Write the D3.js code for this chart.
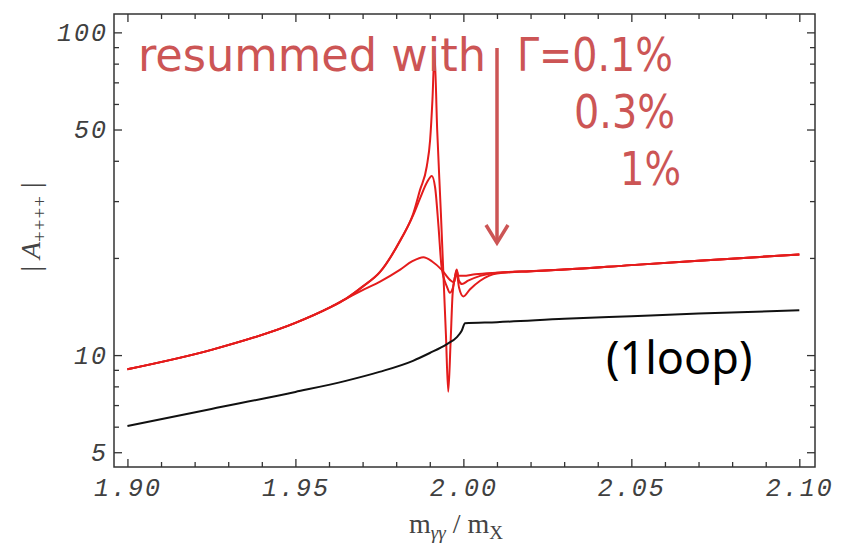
<!DOCTYPE html>
<html>
<head>
<meta charset="utf-8">
<script src="https://cdn.jsdelivr.net/npm/d3@7"></script>
<style>
  body { margin: 0; background: #fff; }
  svg { display: block; }
</style>
</head>
<body>
<div id="chart"></div>
<script>
// values: [m_yy/m_X, |A++++|]
var oneLoop = [[1.90,6.03],[1.925,6.81],[1.95,7.69],[1.965,8.32],[1.975,8.87],[1.985,9.6],
  [1.99,10.15],[1.995,10.8],[1.998,11.35],[1.9995,11.9],[2.0005,12.56],[2.01,12.65],[2.03,12.95],
  [2.05,13.2],[2.07,13.45],[2.10,13.76]];
var redLeft = [[1.90,9.04],[1.925,10.38],[1.95,12.58],[1.96,14.0],[1.965,14.94]];
var redRight = [[2.02,18.2],[2.03,18.4],[2.05,19.0],[2.07,19.6],[2.09,20.2],[2.10,20.5]];
var width01 = [[1.97,16.3],[1.9752,18.1],[1.9812,22.7],[1.9851,27.5],[1.9871,32.5],[1.9891,38.4],
  [1.9901,46.4],[1.9908,62],[1.9914,86],[1.9922,50],[1.9933,27.6],[1.9941,17.3],[1.9948,11.6],
  [1.9955,7.7],[1.9962,11],[1.9968,15.5],[1.9975,17.5],[1.9980,18.4],[1.9985,17.6],[1.9999,17.6],
  [2.0035,17.8],[2.01,18.0]];
var width03 = [[1.97,16.3],[1.9752,18.1],[1.9812,22.6],[1.9851,27.2],[1.9871,30.6],[1.9891,34.2],
  [1.9906,35.9],[1.9916,33],[1.9926,25],[1.9935,18.8],[1.9951,16.3],[1.9960,15.6],[1.9969,16.2],
  [1.9980,18.3],[1.9987,17],[1.9996,16.6],[2.0014,17.0],[2.005,17.6],[2.01,18.0]];
var width1 = [[1.97,15.9],[1.9752,16.9],[1.9812,18.4],[1.9847,19.5],[1.9881,20.1],[1.9907,19.5],
  [1.9935,18.4],[1.9960,17.1],[1.9972,16.8],[1.9980,18.0],[1.9987,16.2],[2.0000,15.2],
  [2.002,16.0],[2.005,17.0],[2.01,17.9]];

var xTickValues = [1.90, 1.95, 2.00, 2.05, 2.10];
var yTickValues = [5, 10, 50, 100];
var widthLabels = ["\u0393=0.1%", "0.3%", "1%"];

var W = 842, H = 554;
var margin = {left: 114, right: 815, top: 14, bottom: 467};

var svg = d3.select("#chart").append("svg")
  .attr("width", W).attr("height", H);
svg.append("rect").attr("width", W).attr("height", H).attr("fill", "#fff");

var x = d3.scaleLinear().domain([1.896, 2.10467]).range([margin.left, margin.right]);
var y = d3.scaleLog().domain([4.5, 114]).range([margin.bottom, margin.top]);

var line = d3.line()
  .x(function(d) { return x(d[0]); })
  .y(function(d) { return y(d[1]); })
  .curve(d3.curveMonotoneX);

// curves
var redSeries = [width1, width03, width01];
redSeries.forEach(function(s) {
  svg.append("path")
    .datum(redLeft.concat(s, redRight))
    .attr("d", line)
    .attr("fill", "none")
    .attr("stroke", "#e41c1c")
    .attr("stroke-width", 2);
});
svg.append("path")
  .datum(oneLoop)
  .attr("d", line)
  .attr("fill", "none")
  .attr("stroke", "#111")
  .attr("stroke-width", 2);

// ticks (inward, on all four sides)
var xMinor = x.ticks(20).filter(function(v) { return xTickValues.indexOf(+v.toFixed(2)) < 0; });
var yMinor = y.ticks().filter(function(v) { return yTickValues.indexOf(v) < 0; });

function tickStyle(g) {
  g.select(".domain").remove();
  g.selectAll("line").attr("stroke", "#333").attr("stroke-width", 1.3);
}

var axes = svg.append("g");
axes.append("g").attr("transform", "translate(0," + margin.bottom + ")")
  .call(d3.axisBottom(x).tickValues(xTickValues).tickSize(-8).tickPadding(11)
    .tickFormat(d3.format(".2f")))
  .call(tickStyle);
axes.append("g").attr("transform", "translate(0," + margin.bottom + ")")
  .call(d3.axisBottom(x).tickValues(xMinor).tickSize(-5).tickFormat(""))
  .call(tickStyle);
axes.append("g").attr("transform", "translate(0," + margin.top + ")")
  .call(d3.axisTop(x).tickValues(xTickValues).tickSize(-8).tickFormat(""))
  .call(tickStyle);
axes.append("g").attr("transform", "translate(0," + margin.top + ")")
  .call(d3.axisTop(x).tickValues(xMinor).tickSize(-5).tickFormat(""))
  .call(tickStyle);

axes.append("g").attr("transform", "translate(" + margin.left + ",0)")
  .call(d3.axisLeft(y).tickValues(yTickValues).tickSize(-8).tickPadding(6)
    .tickFormat(d3.format("d")))
  .call(tickStyle);
axes.append("g").attr("transform", "translate(" + margin.left + ",0)")
  .call(d3.axisLeft(y).tickValues(yMinor).tickSize(-5).tickFormat(""))
  .call(tickStyle);
axes.append("g").attr("transform", "translate(" + margin.right + ",0)")
  .call(d3.axisRight(y).tickValues(yTickValues).tickSize(-8).tickFormat(""))
  .call(tickStyle);
axes.append("g").attr("transform", "translate(" + margin.right + ",0)")
  .call(d3.axisRight(y).tickValues(yMinor).tickSize(-5).tickFormat(""))
  .call(tickStyle);

axes.selectAll("text")
  .attr("font-family", "'Liberation Mono', 'DejaVu Sans Mono', monospace")
  .attr("font-style", "italic")
  .attr("font-size", 25)
  .attr("letter-spacing", 2)
  .attr("fill", "#404040");

// frame
svg.append("rect")
  .attr("x", margin.left).attr("y", margin.top)
  .attr("width", margin.right - margin.left).attr("height", margin.bottom - margin.top)
  .attr("fill", "none").attr("stroke", "#333").attr("stroke-width", 1.5);

// axis titles
var xt = svg.append("text")
  .attr("x", 456).attr("y", 533)
  .attr("text-anchor", "middle")
  .attr("font-family", "'Liberation Serif', 'DejaVu Serif', serif")
  .attr("font-size", 28)
  .attr("fill", "#444");
xt.append("tspan").text("m");
xt.append("tspan").attr("font-size", 19).attr("dy", 6).attr("font-style", "italic").text("\u03b3\u03b3");
xt.append("tspan").attr("dy", -6).text(" / m");
xt.append("tspan").attr("font-size", 19).attr("dy", 6).text("X");

var yt = svg.append("text")
  .attr("transform", "translate(40,227) rotate(-90)")
  .attr("text-anchor", "middle")
  .attr("font-family", "'Liberation Serif', 'DejaVu Serif', serif")
  .attr("font-size", 28)
  .attr("fill", "#444");
yt.append("tspan").text("| ");
yt.append("tspan").attr("font-style", "italic").text("A");
yt.append("tspan").attr("font-size", 19).attr("dy", 6).attr("letter-spacing", 1).text("++++");
yt.append("tspan").attr("dy", -6).text(" |");

// annotations
var annoColor = "#cc5555";
var annoFont = "'DejaVu Sans Condensed', 'DejaVu Sans', sans-serif";
svg.append("text")
  .attr("x", 138).attr("y", 71)
  .attr("font-family", annoFont).attr("font-size", 46)
  .attr("textLength", 348).attr("lengthAdjust", "spacingAndGlyphs")
  .attr("fill", annoColor)
  .text("resummed with");

var labelPos = [[673, 71, 156], [675, 128, 101], [681, 185, 61]];
widthLabels.forEach(function(t, i) {
  svg.append("text")
    .attr("x", labelPos[i][0] - labelPos[i][2]).attr("y", labelPos[i][1])
    .attr("font-family", annoFont).attr("font-size", 46)
    .attr("textLength", labelPos[i][2]).attr("lengthAdjust", "spacingAndGlyphs")
    .attr("fill", annoColor)
    .text(t);
});

// arrow
svg.append("line")
  .attr("x1", 497).attr("y1", 48).attr("x2", 497).attr("y2", 242)
  .attr("stroke", annoColor).attr("stroke-width", 3.5);
svg.append("path")
  .attr("d", "M486,225 L497,243 L508,225")
  .attr("fill", "none").attr("stroke", annoColor).attr("stroke-width", 3.5)
  .attr("stroke-linejoin", "miter");

svg.append("text")
  .attr("x", 606).attr("y", 374)
  .attr("font-family", "'Noto Sans', 'Open Sans', sans-serif")
  .attr("font-size", 45)
  .attr("fill", "#000")
  .text("(1loop)");
</script>
</body>
</html>
